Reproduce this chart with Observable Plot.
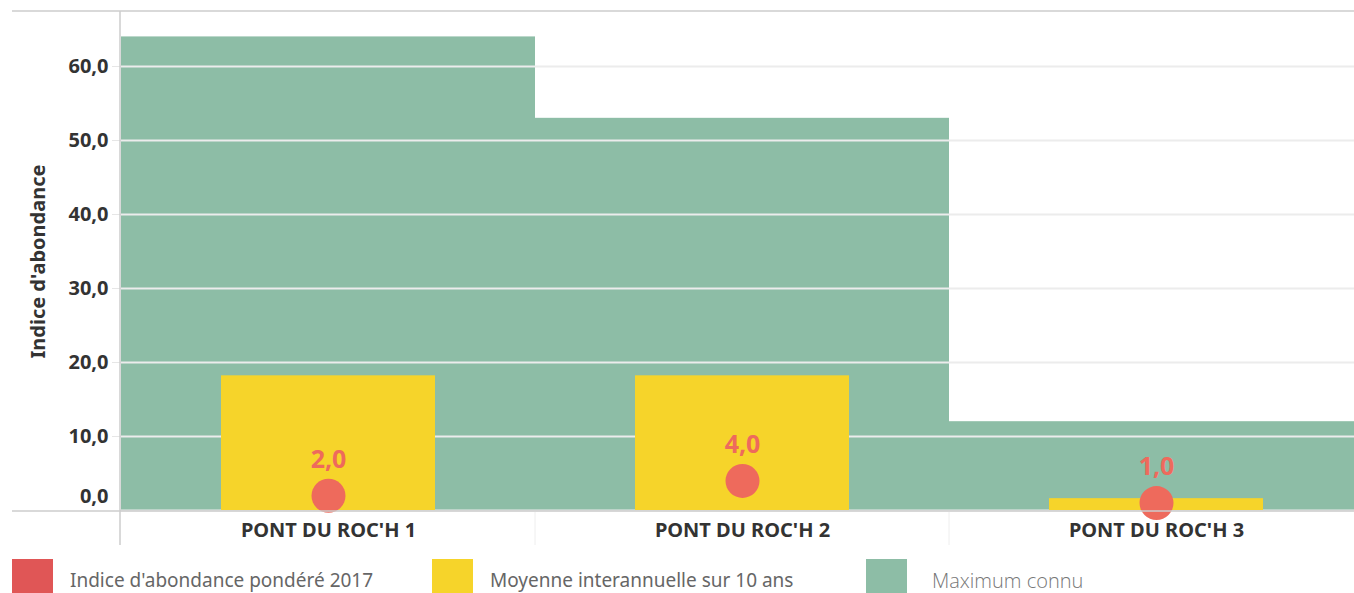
<!DOCTYPE html>
<html>
<head>
<meta charset="utf-8">
<script src="https://cdn.jsdelivr.net/npm/d3@7"></script>
<script src="https://cdn.jsdelivr.net/npm/@observablehq/plot@0.6"></script>
<style>
  html, body { margin: 0; padding: 0; background: #fff; overflow: hidden; }
  #wrap { position: relative; width: 1354px; height: 593px; font-family: "Noto Sans", sans-serif; }
  .leg { position: absolute; top: 559px; height: 41px; display: flex; align-items: flex-start; }
  .sw { width: 41px; height: 41px; }
  .lt { position: absolute; top: 8px; font-size: 19px; color: #666; white-space: nowrap; }
</style>
</head>
<body>
<div id="wrap"></div>
<script>
const categories = ["PONT DU ROC'H 1", "PONT DU ROC'H 2", "PONT DU ROC'H 3"];
const maximumConnu = [64, 53, 12];
const moyenne10ans = [18.2, 18.2, 1.6];
const indice2017 = [2.0, 4.0, 1.0];
const yTicks = [0, 10, 20, 30, 40, 50, 60];
const legendLabels = ["Indice d'abondance pondéré 2017", "Moyenne interannuelle sur 10 ans", "Maximum connu"];
const colors = { red: "#EE6A5C", redLegend: "#E05656", yellow: "#F6D42A", green: "#8DBDA6" };

const data = categories.map((c, i) => ({ cat: c, max: maximumConnu[i], moy: moyenne10ans[i], ind: indice2017[i] }));
const fmt = v => d3.format(".1f")(v).replace(".", ",");

const W = 1354, H = 550;
const plot = Plot.plot({
  width: W,
  height: H,
  marginLeft: 120,
  marginRight: 0,
  marginTop: 12,
  marginBottom: 40,
  style: { fontFamily: "Noto Sans, sans-serif", overflow: "visible" },
  x: { domain: categories, range: [120, 1364], padding: 0 },
  y: { domain: [0, 67.3] },
  marks: [
    Plot.barY(data, { x: "cat", y: "max", fill: colors.green, inset: 0 }),
    Plot.gridY(yTicks, { stroke: "#ececec", strokeOpacity: 1, strokeWidth: 2 }),
    Plot.barY(data, { x: "cat", y: "moy", fill: colors.yellow, insetLeft: 100, insetRight: 100 }),
    Plot.dot(data, { x: "cat", y: "ind", r: 17, fill: colors.red }),
    Plot.text(data, { x: "cat", y: "ind", text: d => fmt(d.ind), dy: -36, fill: colors.red, fontSize: 25, fontWeight: "bold" }),
    Plot.axisY(yTicks.filter(t => t > 0), { tickFormat: fmt, tickSize: 8, tickPadding: 4, stroke: "#e6e6e6", fill: "#333", fontSize: 20, fontWeight: "bold",
      label: "Indice d'abondance", labelAnchor: "center", labelArrow: "none", labelOffset: 90 }),
    Plot.axisY([0], { tickFormat: fmt, tickSize: 0, tickPadding: 12, dy: -14, fill: "#333", fontSize: 20, fontWeight: "bold", label: null }),
    Plot.axisX({ tickSize: 0, tickPadding: 12, fill: "#333", fontSize: 20, fontWeight: "bold", label: null })
  ]
});
document.getElementById("wrap").appendChild(plot);

// frame lines
const svg = d3.select(plot);
const xs = plot.scale("x");
const ys = plot.scale("y");
const y0 = ys.apply(0);
const g = svg.append("g").attr("stroke", "#cccccc").attr("stroke-width", 1.5);
g.append("line").attr("x1", 12).attr("x2", W).attr("y1", 11).attr("y2", 11);
g.append("line").attr("x1", 120).attr("x2", 120).attr("y1", 11).attr("y2", 545);
g.append("line").attr("x1", 12).attr("x2", W).attr("y1", y0 + 1).attr("y2", y0 + 1);
categories.slice(1).forEach(c => {
  const xv = xs.apply(c);
  svg.append("line").attr("x1", xv).attr("x2", xv).attr("y1", y0 + 2).attr("y2", 545)
    .attr("stroke", "#eeeeee").attr("stroke-width", 1);
});
// axis label styling
svg.selectAll("[aria-label='y-axis label'] text").attr("font-size", 20).attr("font-weight", "bold").attr("fill", "#333");

// legend
const legX = [12, 432, 866];
const legColors = [colors.redLegend, colors.yellow, colors.green];
legendLabels.forEach((t, i) => {
  const d = document.createElement("div");
  d.className = "leg";
  d.style.left = legX[i] + "px";
  d.innerHTML = `<div class="sw" style="background:${legColors[i]}"></div><div class="lt" style="left:${i === 2 ? 66 : 58}px;${i === 2 ? 'font-family:Open Sans, sans-serif;font-weight:300;color:#777;top:8px;font-size:20px' : ''}">${t}</div>`;
  document.getElementById("wrap").appendChild(d);
});
</script>
</body>
</html>
